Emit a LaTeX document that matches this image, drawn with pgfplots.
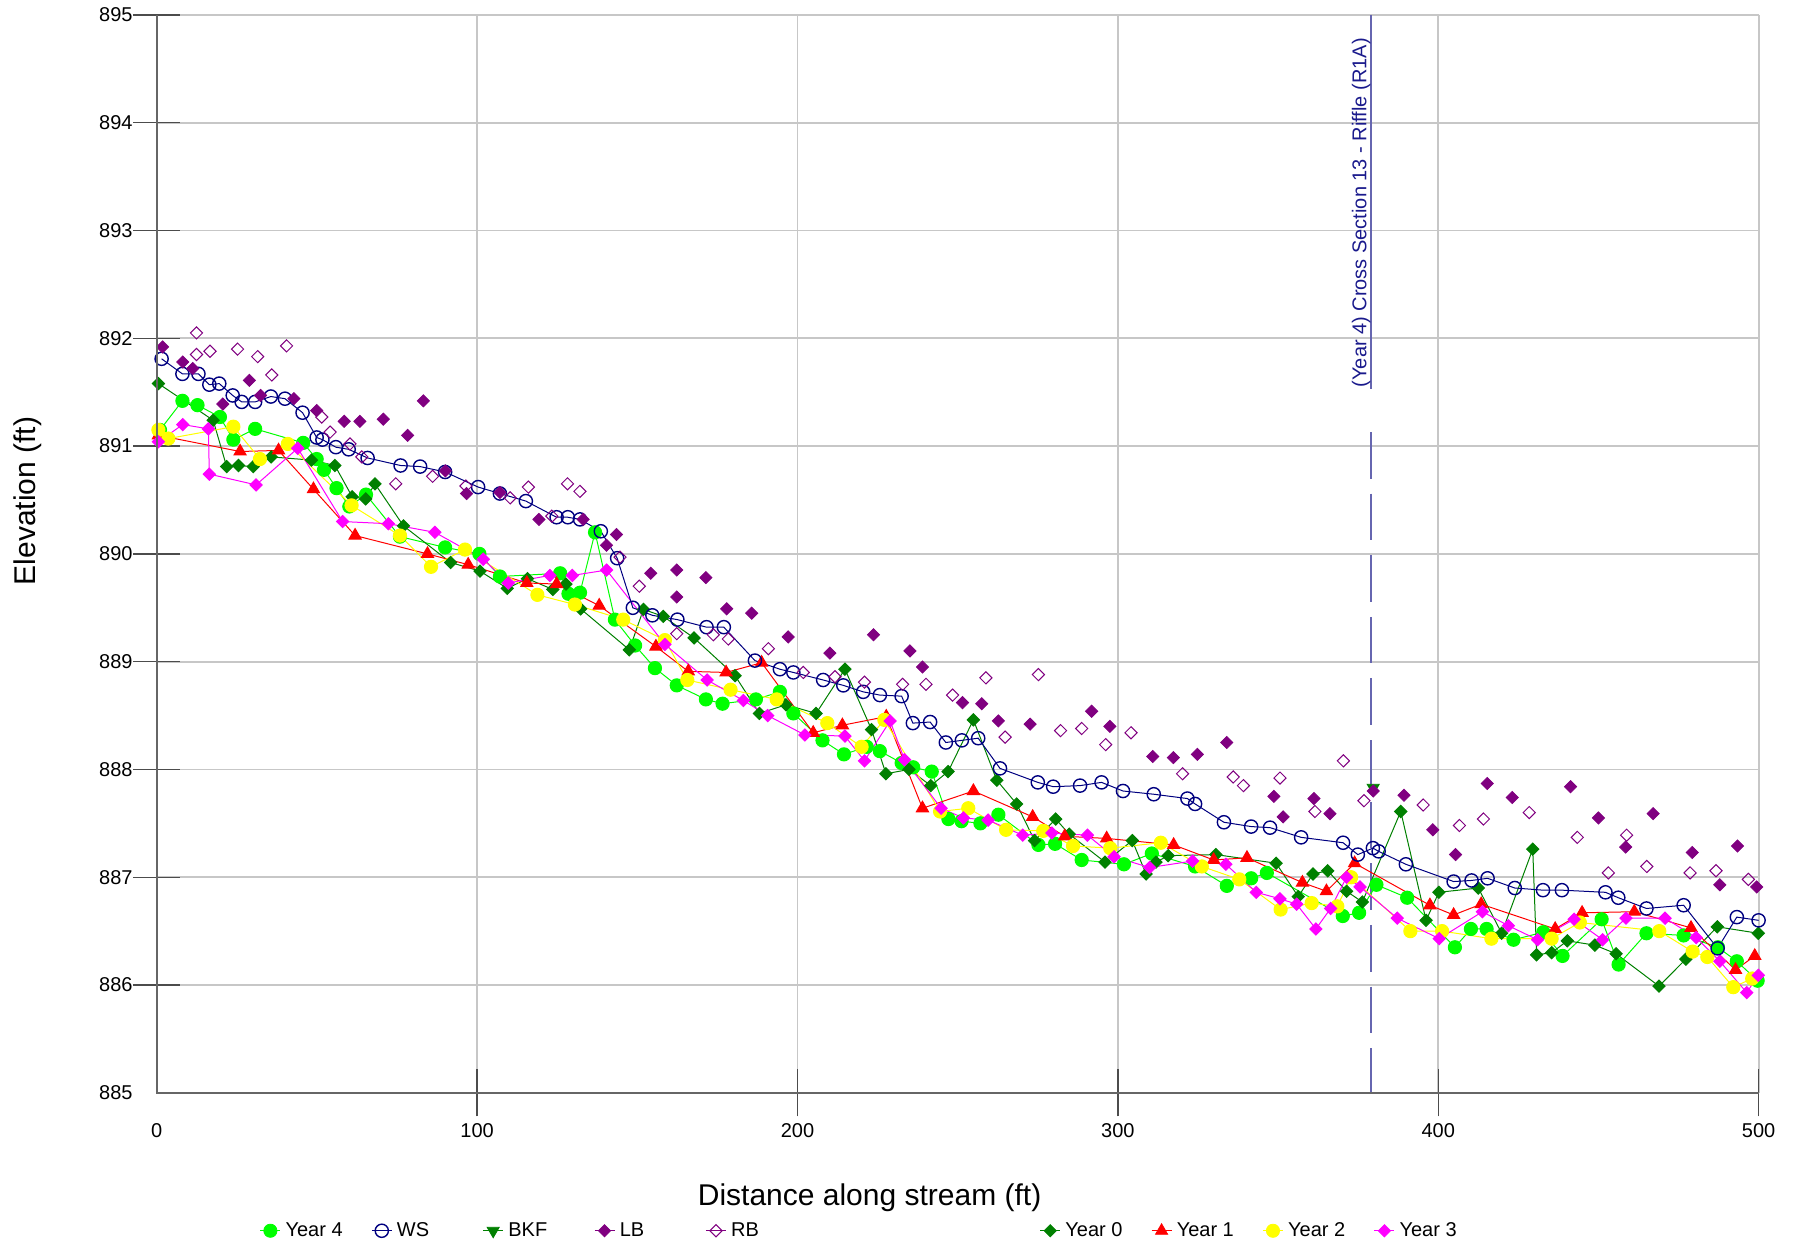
\documentclass[border=0pt]{standalone}
\usepackage{pgfplots}
\pgfplotsset{compat=1.18}
\usepackage{fontspec}
\setmainfont{Liberation Sans}
\definecolor{wsc}{RGB}{0,0,128}
\definecolor{yfour}{RGB}{0,255,0}
\definecolor{yzero}{RGB}{0,128,0}
\definecolor{yone}{RGB}{255,0,0}
\definecolor{ytwo}{RGB}{255,255,0}
\definecolor{ythree}{RGB}{255,0,255}
\definecolor{lbc}{RGB}{128,0,128}
\definecolor{xsline}{RGB}{102,102,176}
\definecolor{xstext}{RGB}{26,26,140}
\begin{document}
\begin{tikzpicture}
\useasboundingbox (-78.4pt,-76.2pt) rectangle (818.6pt,546.4pt);
\begin{axis}[
  at={(0pt,0pt)}, anchor=south west,
  scale only axis, width=800.9pt, height=538.9pt,
  xmin=0, xmax=500, ymin=885, ymax=895,
  axis line style={draw=none},
  xtick pos=bottom, ytick pos=left,
  xtick={100,200,300,400,500}, ytick={886,887,...,895},
  extra x ticks={0}, extra y ticks={885},
  extra tick style={major tick length=0pt},
  xtick align=inside, ytick align=inside, major tick length=23.5pt,
  every major x tick/.append style={yshift=-11.75pt},
  every major y tick/.append style={xshift=-11.75pt},
  tick style={draw=black!70, line width=0.7pt},
  grid=major, major grid style={draw=black!22, line width=0.9pt},
  /pgf/number format/assume math mode=true,
  tick label style={font=\fontsize{10}{12}\selectfont},
  xticklabel style={anchor=north, inner sep=0pt},
  yticklabel style={anchor=east, inner sep=0pt},
  xticklabel shift=15.1pt, yticklabel shift=11.9pt,
  xlabel={Distance along stream (ft)},
  ylabel={Elevation (ft)},
  xlabel style={at={(rel axis cs:0.445,-0.0973)}, anchor=center, font=\fontsize{15}{18}\selectfont},
  ylabel style={at={(rel axis cs:-0.0805,0.549)}, anchor=center, font=\fontsize{15}{18}\selectfont},
  legend columns=11,
  legend image code/.code={\path (0pt,0pt) -- (10pt,0pt); \draw[#1] plot coordinates {(5pt,0pt)};},
  legend style={draw=none, fill=none, inner sep=0pt, outer sep=0pt,
    at={(rel axis cs:0.06443,-0.1280)}, anchor=west,
    nodes={inner sep=0pt, font=\fontsize{10}{12}\selectfont},
    /tikz/every odd column/.append style={column sep=2.4pt},
    /tikz/every even column/.append style={column sep=0pt}},
  legend cell align=left,
]
% legend images
\addlegendimage{only marks, mark=*, mark size=3.3pt, color=yfour}
\addlegendentry{\makebox[42.9pt][l]{Year 4}}
\addlegendimage{only marks, mark=o, mark size=3.3pt, color=wsc, mark options={line width=0.7pt}}
\addlegendentry{\makebox[42.9pt][l]{WS}}
\addlegendimage{only marks, mark=triangle*, mark size=3.5pt, color=yzero, mark options={rotate=180}}
\addlegendentry{\makebox[42.9pt][l]{BKF}}
\addlegendimage{only marks, mark=square*, mark size=2.15pt, color=lbc, mark options={rotate=45}}
\addlegendentry{\makebox[42.9pt][l]{LB}}
\addlegendimage{only marks, mark=square, mark size=2.15pt, color=lbc, mark options={rotate=45, line width=0.5pt}}
\addlegendentry{\makebox[42.9pt][l]{RB}}
\addlegendimage{color=white, draw=white, mark=none}
\addlegendentry{\makebox[42.9pt][l]{}}
\addlegendimage{color=white, draw=white, mark=none}
\addlegendentry{\makebox[42.9pt][l]{}}
\addlegendimage{only marks, mark=square*, mark size=2.15pt, color=yzero, mark options={rotate=45}}
\addlegendentry{\makebox[42.9pt][l]{Year 0}}
\addlegendimage{only marks, mark=triangle*, mark size=3.5pt, color=yone}
\addlegendentry{\makebox[42.9pt][l]{Year 1}}
\addlegendimage{only marks, mark=*, mark size=3.3pt, color=ytwo}
\addlegendentry{\makebox[42.9pt][l]{Year 2}}
\addlegendimage{only marks, mark=square*, mark size=2.15pt, color=ythree, mark options={rotate=45}}
\addlegendentry{\makebox[42.9pt][l]{Year 3}}

% cross-section marker line and label
\draw[xsline, line width=1pt] (axis cs:378.9,895) -- (axis cs:378.9,891.53);
\draw[xsline, line width=1pt, dash pattern=on 23.3pt off 7.5pt] (axis cs:378.9,891.13) -- (axis cs:378.9,885);
\node[rotate=90, anchor=base, xstext, font=\fontsize{10}{12}\selectfont, inner sep=0pt] at ([xshift=-2.2pt]axis cs:378.9,893.165) {(Year 4) Cross Section 13 - Riffle (R1A)};

% Year 4
\addplot[forget plot, color=yfour, line width=0.5pt, mark=*, mark size=3.3pt] coordinates {
(1.0,891.15)(8.0,891.42)(12.7,891.38)(19.7,891.27)(23.9,891.06)(30.7,891.16)(45.7,891.03)(49.9,890.88)
(52.2,890.78)(56.1,890.61)(60.1,890.44)(65.3,890.55)(75.9,890.16)(90.0,890.06)(100.7,890.00)(107.1,889.79)
(125.9,889.82)(128.5,889.63)(132.1,889.64)(136.8,890.20)(143.0,889.39)(149.3,889.15)(155.5,888.94)
(162.3,888.78)(171.4,888.65)(176.6,888.61)(187.0,888.65)(194.5,888.72)(198.7,888.52)(207.8,888.27)
(214.5,888.14)(221.6,888.21)(225.7,888.17)(232.5,888.06)(236.1,888.02)(241.9,887.98)(247.1,887.54)
(251.2,887.52)(257.1,887.50)(262.7,887.58)(275.2,887.30)(280.4,887.31)(288.7,887.16)(301.9,887.12)
(310.6,887.22)(324.1,887.10)(334.0,886.92)(341.6,886.99)(346.5,887.04)(370.2,886.64)(375.3,886.67)
(380.7,886.93)(390.3,886.81)(405.2,886.35)(410.2,886.52)(415.1,886.52)(423.5,886.42)(432.8,886.49)
(438.8,886.27)(451.0,886.61)(456.3,886.19)(465.0,886.48)(476.6,886.46)(487.3,886.35)(493.2,886.22)(499.7,886.04)
};
% Year 0
\addplot[forget plot, color=yzero, line width=0.5pt, mark=square*, mark size=2.15pt, mark options={rotate=45}] coordinates {
(0.5,891.58)(17.6,891.24)(21.8,890.81)(25.5,890.82)(30.1,890.81)(35.7,890.90)(48.3,890.87)(55.6,890.82)
(61.0,890.53)(65.2,890.51)(68.1,890.65)(77.0,890.26)(91.7,889.92)(100.9,889.84)(109.4,889.68)(115.7,889.77)
(123.6,889.67)(127.7,889.72)(132.3,889.49)(147.5,889.11)(151.9,889.485)(158.1,889.42)(167.7,889.22)
(180.5,888.87)(188.1,888.52)(196.4,888.60)(205.8,888.52)(214.8,888.93)(223.1,888.37)(227.6,887.96)
(234.8,888.00)(241.6,887.85)(247.0,887.98)(254.9,888.46)(262.2,887.90)(268.4,887.68)(274.0,887.34)
(280.6,887.54)(284.8,887.40)(296.0,887.14)(304.5,887.34)(308.8,887.03)(311.9,887.14)(315.7,887.20)
(330.6,887.21)(349.4,887.13)(356.3,886.82)(360.9,887.03)(365.5,887.06)(371.4,886.87)(376.3,886.77)
(388.3,887.61)(396.2,886.60)(400.2,886.86)(412.5,886.90)(419.8,886.48)(429.5,887.26)(430.7,886.28)
(435.4,886.30)(440.3,886.41)(448.9,886.37)(455.5,886.29)(468.9,885.99)(477.3,886.24)(487.1,886.54)(499.9,886.48)
};
% Year 1
\addplot[forget plot, color=yone, line width=0.5pt, mark=triangle*, mark size=3.5pt] coordinates {
(0.5,891.10)(26.0,890.95)(38.0,890.96)(48.9,890.60)(61.9,890.17)(84.5,890.00)(97.2,889.90)(115.5,889.73)
(124.8,889.72)(138.1,889.52)(155.8,889.14)(165.9,888.91)(177.7,888.90)(188.8,888.99)(204.9,888.34)
(214.0,888.41)(227.7,888.49)(239.0,887.64)(254.9,887.80)(273.4,887.56)(283.4,887.38)(296.5,887.36)
(317.4,887.30)(329.9,887.16)(340.3,887.18)(357.6,886.95)(365.1,886.87)(373.9,887.13)(397.4,886.74)
(404.8,886.65)(413.4,886.75)(436.5,886.52)(444.9,886.67)(461.2,886.68)(478.9,886.53)(492.8,886.14)(498.8,886.27)
};
% Year 2
\addplot[forget plot, color=ytwo, line width=0.5pt, mark=*, mark size=3.3pt] coordinates {
(0.5,891.15)(3.6,891.07)(23.9,891.18)(32.2,890.88)(40.9,891.02)(60.8,890.45)(75.9,890.17)(85.6,889.88)
(96.2,890.04)(118.8,889.62)(130.5,889.53)(145.6,889.39)(158.6,889.20)(165.6,888.83)(179.1,888.74)
(193.5,888.65)(209.3,888.43)(220.0,888.21)(227.1,888.46)(244.5,887.61)(253.3,887.64)(265.1,887.44)
(276.7,887.43)(286.0,887.29)(297.6,887.27)(313.4,887.32)(326.2,887.10)(337.9,886.98)(350.8,886.70)
(360.5,886.76)(368.5,886.73)(372.8,887.00)(391.3,886.50)(401.2,886.50)(416.6,886.43)(435.4,886.43)
(444.2,886.58)(469.0,886.50)(479.4,886.31)(484.0,886.26)(492.1,885.98)(498.0,886.06)
};
% Year 3
\addplot[forget plot, color=ythree, line width=0.5pt, mark=square*, mark size=2.15pt, mark options={rotate=45}] coordinates {
(0.5,891.04)(8.1,891.20)(16.1,891.16)(16.4,890.74)(31.0,890.64)(44.0,890.98)(58.0,890.30)(72.3,890.28)
(86.8,890.20)(101.9,889.95)(109.7,889.73)(122.7,889.80)(129.7,889.80)(140.4,889.85)(158.6,889.16)
(171.8,888.83)(183.1,888.64)(190.7,888.50)(202.3,888.32)(214.8,888.31)(220.9,888.08)(228.9,888.45)
(233.4,888.09)(244.8,887.64)(251.8,887.55)(259.5,887.53)(270.3,887.39)(279.4,887.41)(290.5,887.39)
(298.8,887.19)(309.9,887.09)(323.3,887.15)(333.7,887.12)(343.2,886.86)(350.6,886.80)(355.8,886.75)
(361.8,886.52)(366.4,886.71)(371.4,887.00)(375.6,886.91)(387.2,886.62)(400.3,886.43)(413.8,886.68)
(421.9,886.55)(431.0,886.42)(442.4,886.61)(451.3,886.42)(458.6,886.62)(470.8,886.62)(480.5,886.44)
(487.9,886.22)(496.3,885.93)(499.9,886.09)
};
% WS
\addplot[forget plot, color=wsc, line width=0.5pt, mark=o, mark size=3.3pt, mark options={line width=0.7pt}] coordinates {
(1.5,891.81)(8.0,891.67)(13.0,891.67)(16.4,891.57)(19.5,891.58)(23.7,891.47)(26.5,891.41)(30.7,891.41)
(35.6,891.46)(40.0,891.44)(45.5,891.31)(49.9,891.08)(51.7,891.06)(55.9,890.99)(59.9,890.97)(65.8,890.89)
(76.1,890.82)(82.2,890.81)(90.0,890.76)(100.3,890.62)(107.1,890.56)(115.2,890.49)(124.8,890.34)
(128.3,890.34)(132.1,890.32)(138.6,890.21)(143.7,889.96)(148.6,889.50)(154.7,889.43)(162.5,889.39)
(171.6,889.32)(177.0,889.32)(186.7,889.01)(194.5,888.93)(198.7,888.90)(208.0,888.83)(214.3,888.78)
(220.5,888.72)(225.7,888.69)(232.5,888.68)(236.0,888.43)(241.4,888.44)(246.3,888.25)(251.3,888.27)
(256.4,888.29)(263.2,888.01)(275.0,887.88)(279.8,887.84)(288.2,887.85)(294.9,887.88)(301.6,887.80)
(311.2,887.77)(321.7,887.73)(324.1,887.68)(333.1,887.51)(341.6,887.47)(347.5,887.46)(357.2,887.37)
(370.3,887.32)(374.9,887.21)(379.6,887.27)(381.4,887.24)(389.9,887.12)(404.8,886.96)(410.4,886.97)
(415.4,886.99)(423.9,886.90)(432.7,886.88)(438.6,886.88)(452.2,886.86)(456.2,886.81)(465.0,886.71)
(476.6,886.74)(487.2,886.34)(493.2,886.63)(500.0,886.60)
};
% BKF
\addplot[forget plot, only marks, color=yzero, mark=triangle*, mark size=3.5pt, mark options={rotate=180}] coordinates {
(379.7,887.83)
};
% LB
\addplot[forget plot, only marks, color=lbc, mark=square*, mark size=2.15pt, mark options={rotate=45}] coordinates {
(1.8,891.92)(8.1,891.78)(11.2,891.72)(20.6,891.39)(28.9,891.61)(32.4,891.47)(42.8,891.44)(49.9,891.33)
(58.5,891.23)(63.4,891.23)(70.7,891.25)(78.3,891.10)(83.2,891.42)(90.1,890.77)(96.7,890.56)(107.1,890.57)
(119.3,890.32)(133.1,890.32)(140.4,890.08)(143.5,890.18)(154.2,889.82)(162.3,889.85)(162.3,889.60)
(171.4,889.78)(177.9,889.49)(185.7,889.45)(197.1,889.23)(210.1,889.08)(223.7,889.25)(235.1,889.10)
(239.0,888.95)(251.5,888.62)(257.5,888.61)(262.7,888.45)(272.6,888.42)(291.8,888.54)(297.5,888.40)
(310.9,888.12)(317.3,888.11)(324.8,888.14)(334.0,888.25)(348.7,887.75)(351.6,887.56)(361.2,887.73)
(366.2,887.59)(379.7,887.80)(389.3,887.76)(398.3,887.44)(405.4,887.21)(415.3,887.87)(423.1,887.74)
(441.3,887.84)(450.0,887.55)(458.5,887.28)(467.1,887.59)(479.3,887.23)(487.9,886.93)(493.4,887.29)(499.4,886.91)
};
% RB
\addplot[forget plot, only marks, color=lbc, mark=square, mark size=2.15pt, mark options={rotate=45, line width=0.5pt}] coordinates {
(12.4,892.05)(12.4,891.85)(16.6,891.88)(25.2,891.90)(31.5,891.83)(35.9,891.66)(40.5,891.93)(51.5,891.27)
(54.1,891.13)(60.3,891.02)(64.0,890.90)(74.6,890.65)(86.1,890.72)(96.5,890.63)(110.3,890.52)(116.0,890.62)
(123.3,890.35)(128.2,890.65)(132.1,890.58)(144.6,889.97)(150.6,889.70)(162.3,889.26)(173.7,889.25)
(178.4,889.21)(190.9,889.12)(201.8,888.90)(211.7,888.86)(220.9,888.81)(232.8,888.79)(240.1,888.79)
(248.4,888.69)(258.8,888.85)(264.8,888.30)(275.2,888.88)(282.1,888.36)(288.7,888.38)(296.2,888.23)
(304.1,888.34)(320.2,887.96)(336.0,887.93)(339.2,887.85)(350.6,887.92)(361.5,887.61)(370.4,888.08)
(376.8,887.71)(395.3,887.67)(406.6,887.48)(414.1,887.54)(428.4,887.60)(443.4,887.37)(453.1,887.04)
(458.8,887.39)(465.1,887.10)(478.6,887.04)(486.7,887.06)(496.8,886.98)
};
\end{axis}
\draw[black!60, line width=1pt] (0pt,538.9pt) -- (0pt,0pt) -- (800.9pt,0pt);
\end{tikzpicture}
\end{document}
